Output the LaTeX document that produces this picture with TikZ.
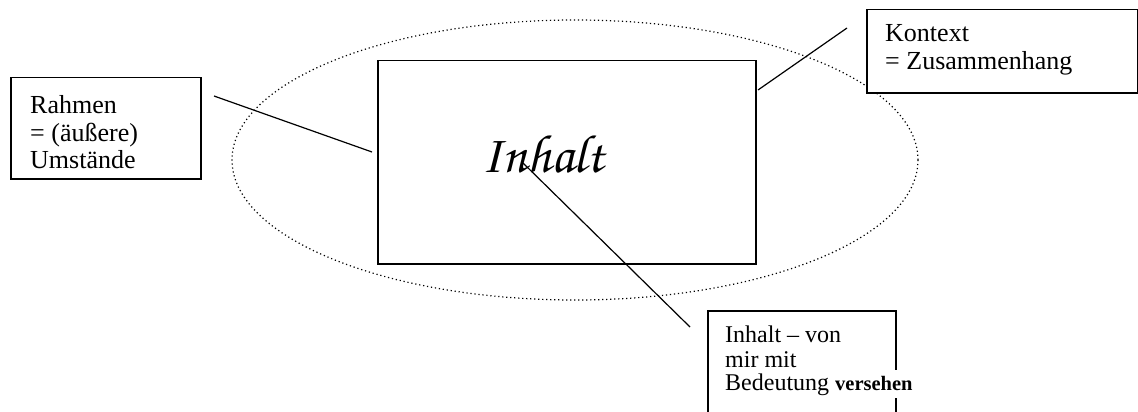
\documentclass[tikz,border=0pt]{standalone}
\usepackage{fontspec}
\setmainfont{Liberation Serif}
\newfontfamily\chorusfont{texgyrechorus-mediumitalic.otf}
\newcommand\inhaltfont{\chorusfont\fontsize{54}{58}\selectfont}
\begin{document}
\begin{tikzpicture}[x=1pt,y=-1pt,
  boxline/.style={draw=black, line width=1.5pt, inner sep=0pt, anchor=north west},
  conn/.style={draw=black, line width=1.2pt},
  ell/.style={draw=black, line width=1.2pt, dash pattern=on 1.2pt off 2.8pt},
  lbl/.style={inner sep=0pt, anchor=base west, font=\fontsize{26}{28}\selectfont},
  lblsmall/.style={inner sep=0pt, anchor=base west, font=\fontsize{24}{26}\selectfont},
  lblbold/.style={anchor=base west, fill=white, inner xsep=1pt, inner ysep=0pt,
    text height=20pt, text depth=8pt, font=\fontsize{20.5}{22}\selectfont\bfseries},
]
\useasboundingbox (0,0) rectangle (1138,412);
\clip (0,0) rectangle (1138,412);

% dotted context ellipse
\draw[ell] (575,160) ellipse [x radius=343, y radius=140];

% main frame
\node[boxline, minimum width=378, minimum height=203] (frame) at (377,60) {};
\node[inner sep=0pt, anchor=base, font=\inhaltfont] (inhalt) at (543,172) {Inhalt};

% Rahmen box
\node[boxline, fill=white, minimum width=190, minimum height=101] (rahmen) at (10,77) {};
\node[lbl] (r1) at (30,113) {Rahmen};
\node[lbl] (r2) at (30,141) {= (äußere)};
\node[lbl] (r3) at (30,168) {Umstände};

% Kontext box
\node[boxline, fill=white, minimum width=271, minimum height=83] (kontext) at (866,9) {};
\node[lbl] (k1) at (885,42) {Kontext};
\node[lbl] (k2) at (885,70) {= Zusammenhang};

% Inhalt box (cut off at the bottom)
\node[boxline, fill=white, minimum width=188, minimum height=130] (ibox) at (707,310) {};
\node[lblsmall] (i1) at (725,342) {Inhalt – von};
\node[lblsmall] (i2) at (725,367) {mir mit};
\node[lblsmall] (i3) at (725,390) {Bedeutung};
\node[lblbold] (i4) at (834,390) {versehen};

% connectors
\coordinate (ra) at (214,96);
\coordinate (rb) at (372,152);
\coordinate (ka) at (758,90);
\coordinate (kb) at (847,28);
\coordinate (ia) at (523,163);
\coordinate (ib) at (690,327);
\draw[conn] (ra) -- (rb);
\draw[conn] (ka) -- (kb);
\draw[conn] (ia) -- (ib);
\end{tikzpicture}
\end{document}
